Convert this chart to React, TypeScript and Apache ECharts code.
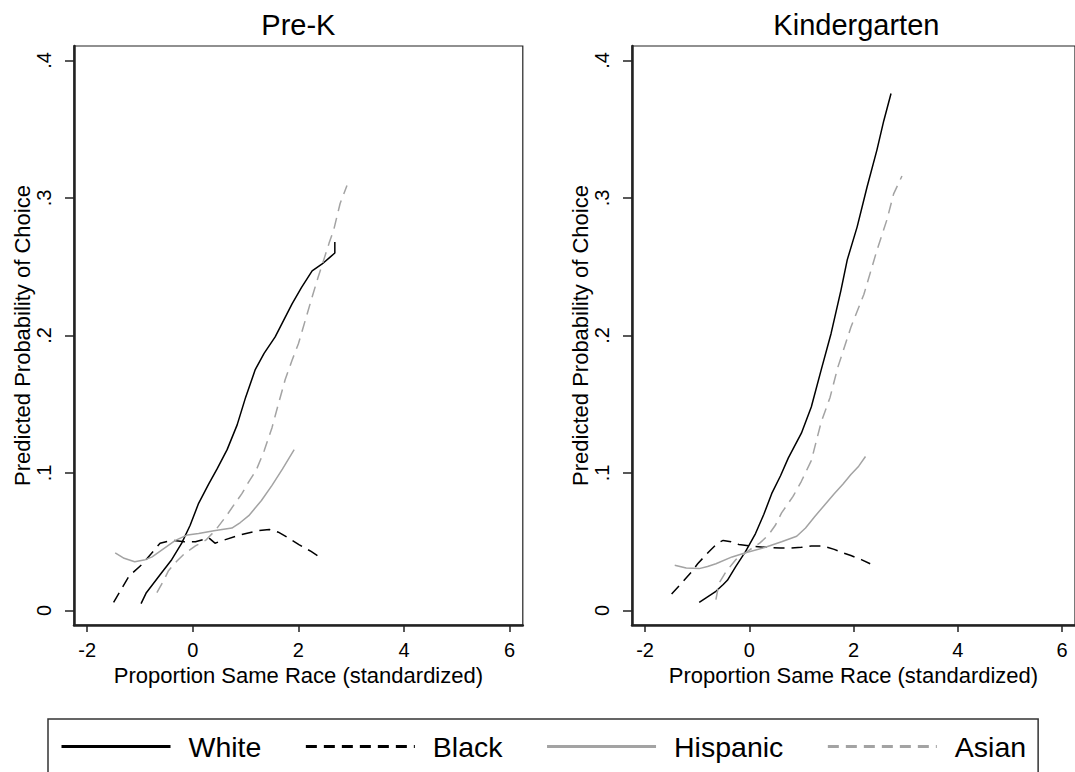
import React, { useEffect, useRef } from "react";
import * as echarts from "echarts";

// ---- data (x = proportion same race, standardized; y = predicted probability) ----
const xTicks = [-2, 0, 2, 4, 6];
const yTicks = [0, 0.1, 0.2, 0.3, 0.4];
const raceNames = ["White", "Black", "Hispanic", "Asian"];
const panelTitles = ["Pre-K", "Kindergarten"];

const whitePreK = [
  [-0.98, 0.005], [-0.88, 0.013], [-0.62, 0.026], [-0.4, 0.037], [-0.21, 0.049],
  [-0.05, 0.062], [0.11, 0.078], [0.3, 0.092], [0.46, 0.103], [0.65, 0.117],
  [0.84, 0.135], [1.0, 0.155], [1.18, 0.175], [1.35, 0.187], [1.56, 0.199],
  [1.72, 0.211], [1.88, 0.223], [2.06, 0.235], [2.26, 0.247], [2.45, 0.252],
  [2.6, 0.257], [2.69, 0.26], [2.69, 0.268],
];
const blackPreK = [
  [-1.5, 0.006], [-1.21, 0.025], [-0.95, 0.034], [-0.62, 0.049], [-0.39, 0.051],
  [-0.16, 0.05], [0.05, 0.05], [0.24, 0.052], [0.3, 0.053], [0.42, 0.049],
  [0.57, 0.051], [0.89, 0.055], [1.22, 0.058], [1.45, 0.059], [1.62, 0.057],
  [1.8, 0.053], [2.01, 0.048], [2.24, 0.043], [2.4, 0.039],
];
const hispanicPreK = [
  [-1.47, 0.042], [-1.3, 0.038], [-1.1, 0.0355], [-0.9, 0.037], [-0.77, 0.039],
  [-0.55, 0.045], [-0.33, 0.051], [-0.1, 0.055], [0.11, 0.056], [0.4, 0.058],
  [0.74, 0.06], [0.9, 0.064], [1.06, 0.069], [1.3, 0.08], [1.5, 0.091],
  [1.7, 0.103], [1.92, 0.117],
];
const asianPreK = [
  [-0.68, 0.013], [-0.55, 0.022], [-0.46, 0.029], [-0.3, 0.036], [-0.14, 0.042],
  [0.05, 0.047], [0.24, 0.051], [0.42, 0.058], [0.62, 0.068], [0.8, 0.078],
  [0.93, 0.085], [1.05, 0.093], [1.2, 0.102], [1.35, 0.116], [1.5, 0.133],
  [1.62, 0.15], [1.75, 0.168], [1.88, 0.182], [2.0, 0.194], [2.13, 0.211],
  [2.26, 0.228], [2.37, 0.242], [2.48, 0.255], [2.58, 0.267], [2.67, 0.277],
  [2.79, 0.296], [2.92, 0.309],
];

const whiteK = [
  [-0.96, 0.006], [-0.8, 0.01], [-0.64, 0.014], [-0.5, 0.019], [-0.42, 0.022],
  [-0.26, 0.032], [-0.07, 0.043], [0.12, 0.056], [0.28, 0.07], [0.43, 0.085],
  [0.6, 0.098], [0.75, 0.111], [1.0, 0.129], [1.19, 0.148], [1.38, 0.175],
  [1.57, 0.2015], [1.76, 0.233], [1.88, 0.255], [2.07, 0.279], [2.26, 0.308],
  [2.45, 0.335], [2.58, 0.356], [2.72, 0.376],
];
const blackK = [
  [-1.49, 0.012], [-1.3, 0.02], [-1.11, 0.028], [-0.99, 0.034], [-0.77, 0.043],
  [-0.61, 0.049], [-0.5, 0.051], [-0.35, 0.05], [-0.2, 0.048], [0, 0.047],
  [0.31, 0.046], [0.6, 0.0455], [0.81, 0.0455], [1.0, 0.046], [1.19, 0.047],
  [1.41, 0.047], [1.63, 0.0445], [1.8, 0.042], [1.95, 0.04], [2.15, 0.037],
  [2.32, 0.034],
];
const hispanicK = [
  [-1.43, 0.033], [-1.21, 0.031], [-0.96, 0.0305], [-0.8, 0.032], [-0.64, 0.034],
  [-0.33, 0.039], [-0.07, 0.042], [0.31, 0.046], [0.62, 0.05], [0.91, 0.054],
  [1.08, 0.06], [1.25, 0.068], [1.45, 0.077], [1.63, 0.085], [1.8, 0.092],
  [1.95, 0.099], [2.1, 0.105], [2.23, 0.112],
];
const asianK = [
  [-0.64, 0.008], [-0.58, 0.02], [-0.45, 0.028], [-0.26, 0.037], [0, 0.044],
  [0.2, 0.049], [0.37, 0.055], [0.5, 0.062], [0.62, 0.071], [0.84, 0.083],
  [1.0, 0.094], [1.19, 0.109], [1.38, 0.137], [1.55, 0.155], [1.7, 0.177],
  [1.95, 0.206], [2.2, 0.23], [2.45, 0.262], [2.64, 0.284], [2.77, 0.303],
  [2.93, 0.316],
];

const panelData = [
  [whitePreK, blackPreK, hispanicPreK, asianPreK],
  [whiteK, blackK, hispanicK, asianK],
];

// ---- styling ----
const FONT = "'Liberation Sans', Arial, sans-serif";
const AXIS = "#222";
const GRAY = "#a3a3a3";
const raceStyles = [
  { color: "#000", type: "solid" as any },
  { color: "#000", type: [11, 7] as any },
  { color: GRAY, type: "solid" as any },
  { color: GRAY, type: [11, 7] as any },
];
const gridLefts = [74, 632];
const GRID_W = 448.8;
const GRID_TOP = 46;
const GRID_H = 579;

function fmtY(v: number) {
  if (v === 0) return "0";
  return String(v).replace(/^0\./, ".");
}

export default function App() {
  const ref = useRef<HTMLDivElement>(null);

  useEffect(() => {
    document.body.style.margin = "0";
    document.body.style.overflow = "hidden";
    if (!ref.current) return;
    const chart = echarts.init(ref.current, null, { renderer: "svg" });

    const grids = gridLefts.map((left) => ({
      left,
      top: GRID_TOP,
      width: GRID_W,
      height: GRID_H,
      show: true,
      borderColor: AXIS,
      borderWidth: 1.2,
      backgroundColor: "transparent",
    }));

    const xAxes = gridLefts.map((_, i) => ({
      type: "value",
      gridIndex: i,
      min: -2.25,
      max: 6.25,
      axisLine: { show: true, onZero: false, lineStyle: { color: AXIS, width: 2.5 } },
      axisTick: {
        show: true,
        customValues: xTicks,
        length: 7,
        lineStyle: { color: AXIS, width: 1.5 },
      },
      axisLabel: {
        customValues: xTicks,
        margin: 15,
        fontSize: 20,
        fontFamily: FONT,
        color: "#000",
        formatter: (v: number) => String(v),
      },
      splitLine: { show: false },
      name: "Proportion Same Race (standardized)",
      nameLocation: "middle",
      nameGap: 33,
      nameTextStyle: { fontSize: 22, fontFamily: FONT, color: "#000" },
    }));

    const yAxes = gridLefts.map((_, i) => ({
      type: "value",
      gridIndex: i,
      min: -0.0105,
      max: 0.4105,
      axisLine: { show: true, onZero: false, lineStyle: { color: AXIS, width: 2.5 } },
      axisTick: {
        show: true,
        customValues: yTicks,
        length: 9,
        lineStyle: { color: AXIS, width: 1.5 },
      },
      axisLabel: {
        customValues: yTicks,
        rotate: 90,
        margin: 20,
        fontSize: 20,
        fontFamily: FONT,
        color: "#000",
        formatter: fmtY,
      },
      splitLine: { show: false },
      name: "Predicted Probability of Choice",
      nameLocation: "middle",
      nameRotate: 90,
      nameGap: 39,
      nameTextStyle: { fontSize: 22, fontFamily: FONT, color: "#000" },
    }));

    const series: any[] = [];
    panelData.forEach((lines, p) => {
      lines.forEach((data, r) => {
        series.push({
          type: "line",
          name: raceNames[r],
          xAxisIndex: p,
          yAxisIndex: p,
          data,
          symbol: "none",
          showSymbol: false,
          smooth: false,
          lineStyle: { color: raceStyles[r].color, width: 1.5, type: raceStyles[r].type },
          itemStyle: { color: raceStyles[r].color },
          emphasis: { disabled: true },
        });
      });
    });

    const titleGraphics = panelTitles.map((t, i) => ({
      type: "text",
      x: gridLefts[i] + GRID_W / 2,
      y: 25,
      style: {
        text: t,
        fontSize: 29,
        fontFamily: FONT,
        fill: "#000",
        align: "center",
        verticalAlign: "middle",
        textAlign: "center",
        textVerticalAlign: "middle",
      },
    }));

    chart.setOption({
      animation: false,
      backgroundColor: "#fff",
      grid: grids,
      xAxis: xAxes,
      yAxis: yAxes,
      series,
      graphic: titleGraphics,
      legend: {
        data: raceNames,
        left: 48,
        top: 719,
        orient: "horizontal",
        itemWidth: 109,
        itemHeight: 14,
        itemGap: 43,
        padding: [13, 12, 13, 12],
        borderColor: "#333",
        borderWidth: 1.5,
        selectedMode: false,
        itemStyle: { opacity: 0, borderWidth: 0 },
        lineStyle: { width: 3 },
        textStyle: {
          fontSize: 28.5,
          fontFamily: FONT,
          color: "#000",
          padding: [0, 0, 0, 13],
        },
      },
    });

    return () => chart.dispose();
  }, []);

  return (
    <div
      ref={ref}
      style={{ position: "absolute", left: 0, top: 0, width: 1075, height: 772 }}
    />
  );
}
